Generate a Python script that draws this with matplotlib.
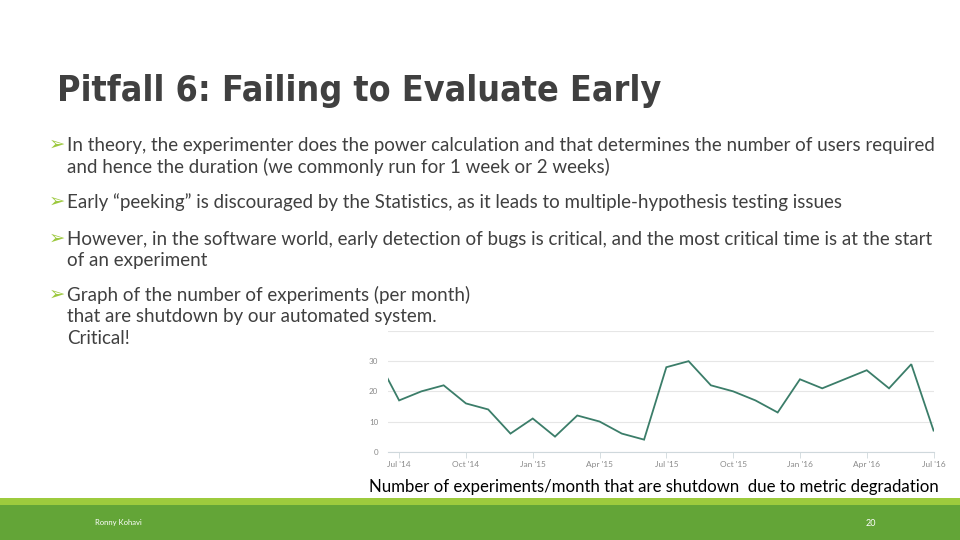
import matplotlib
matplotlib.use('Agg')
import matplotlib.pyplot as plt
from matplotlib.patches import Rectangle
import numpy as np

# experiments shut down per month, Jun '14 .. Jul '16
# (Jun '14 is left of the visible plot edge, the line gets clipped there)
months = np.arange(-1, 25)
shutdowns = [31, 17, 20, 22, 16, 14, 6, 11, 5, 12, 10, 6, 4,
             28, 30, 22, 20, 17, 13, 24, 21, 24, 27, 21, 29, 7]
tick_months = [0, 3, 6, 9, 12, 15, 18, 21, 24]
tick_labels = ["Jul '14", "Oct '14", "Jan '15", "Apr '15", "Jul '15",
               "Oct '15", "Jan '16", "Apr '16", "Jul '16"]
y_ticks = [0, 10, 20, 30, 40]
y_labels = ['0', '10', '20', '30', '']

title = 'Pitfall 6: Failing to Evaluate Early'
bullets = [
    ['In theory, the experimenter does the power calculation and that determines the number of users required',
     'and hence the duration (we commonly run for 1 week or 2 weeks)'],
    ['Early \u201cpeeking\u201d is discouraged by the Statistics, as it leads to multiple-hypothesis testing issues'],
    ['However, in the software world, early detection of bugs is critical, and the most critical time is at the start',
     'of an experiment'],
    ['Graph of the number of experiments (per month)',
     'that are shutdown by our automated system.',
     'Critical!'],
]
bullet_y = [145, 202, 239, 295]   # pixel rows of first line
caption = 'Number of experiments/month that are shutdown  due to metric degradation'

W, H = 960, 540
fig = plt.figure(figsize=(9.6, 5.4), dpi=100)
fig.patch.set_facecolor('white')

def fy(py):
    return 1 - py / H

body_font = ['Lato', 'DejaVu Sans']
txt_col = '#404040'

# title
t_title = fig.text(57 / W, fy(91), title, fontsize=36, color=txt_col,
                   fontweight='bold', family=['Liberation Sans Narrow', 'DejaVu Sans'],
                   va='center', ha='left', fontstretch='condensed')

# bullets
body_texts = []
for lines, y0 in zip(bullets, bullet_y):
    fig.text(49 / W, fy(y0 - 1), '\u27a2', fontsize=14, color='#9bc83c',
             family=['DejaVu Sans'], va='center', ha='left')
    for k, line in enumerate(lines):
        t = fig.text(67 / W, fy(y0 + 21.5 * k), line, fontsize=12, color=txt_col,
                     family=body_font, va='center', ha='left')
        body_texts.append(t)

t_cap = fig.text(369 / W, fy(487), caption, fontsize=11, color='black',
                 family=body_font, va='center', ha='left')

# scale fonts so the widths match the slide
fig.canvas.draw()
r = fig.canvas.get_renderer()
def fit(t, width_px):
    w = t.get_window_extent(renderer=r).width
    t.set_fontsize(t.get_fontsize() * width_px / w)

fit(t_title, 603)
fit(body_texts[0], 863)
for t in body_texts[1:]:
    t.set_fontsize(body_texts[0].get_fontsize())
fit(t_cap, 568)

# footer bars
fig.add_artist(Rectangle((0, fy(505)), 1, (505 - 498) / H, transform=fig.transFigure,
                         color='#9dcb3d', lw=0))
fig.add_artist(Rectangle((0, 0), 1, fy(505), transform=fig.transFigure,
                         color='#63a537', lw=0))
fig.text(95 / W, fy(523), 'Ronny Kohavi', fontsize=5.5, color='white',
         family=body_font, va='center', ha='left')
fig.text(871 / W, fy(523), '20', fontsize=6.5, color='white',
         family=body_font, va='center', ha='center')

# chart
left, right, bottom, top = 388, 934, 451.7, 331
ax = fig.add_axes([left / W, fy(bottom), (right - left) / W, (bottom - top) / H])
ax.plot(months, shutdowns, color='#3b7d69', lw=1.3, solid_joinstyle='miter')
ax.set_xlim(-0.5, 24.02)
ax.set_ylim(0, 40)
ax.set_yticks(y_ticks)
ax.set_yticklabels(y_labels)
ax.set_xticks(tick_months)
ax.set_xticklabels(tick_labels)
ax.grid(axis='y', color='#e6e6e6', lw=0.8)
ax.set_axisbelow(True)
for s in ['top', 'right', 'left']:
    ax.spines[s].set_visible(False)
ax.spines['bottom'].set_color('#cfd8dc')
ax.spines['bottom'].set_linewidth(0.8)
ax.tick_params(axis='y', length=0, pad=7, labelsize=5.8, labelcolor='#8a8a8a')
ax.tick_params(axis='x', length=4, width=0.6, color='#cfd8dc', pad=3,
               labelsize=6, labelcolor='#8a8a8a')
for lab in ax.get_xticklabels() + ax.get_yticklabels():
    lab.set_family(body_font)
ax.patch.set_alpha(0)

fig.savefig('out.png', dpi=100)
